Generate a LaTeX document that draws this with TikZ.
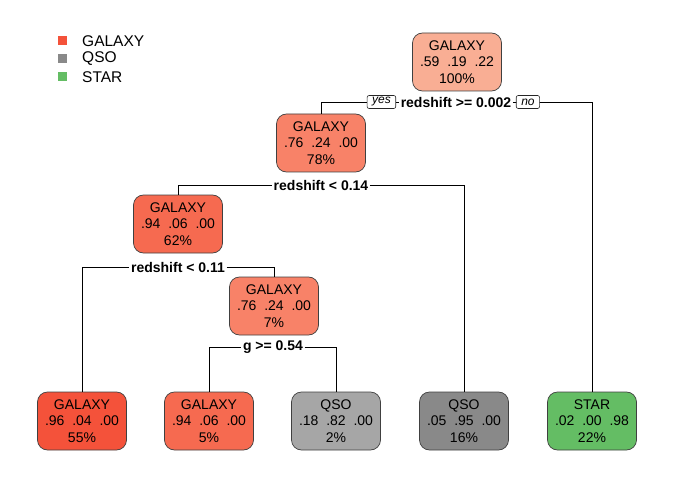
\documentclass[tikz,border=0pt]{standalone}
\usepackage{fontspec}
\setmainfont{Liberation Sans}
\definecolor{gal59}{RGB}{249,174,148}
\definecolor{gal76}{RGB}{248,130,104}
\definecolor{gal94}{RGB}{246,106,80}
\definecolor{gal96}{RGB}{244,82,58}
\definecolor{qso82}{RGB}{166,166,166}
\definecolor{qso95}{RGB}{137,137,137}
\definecolor{star98}{RGB}{100,189,100}

\begin{document}
\begin{tikzpicture}[x=1pt,y=-1pt,
    treenode/.style={draw=black!75,line width=0.7pt,rounded corners=10pt,
        minimum width=89pt,minimum height=58pt,inner sep=0pt,align=center,
        font=\fontsize{14}{16.5}\selectfont},
    splitlabel/.style={fill=white,inner sep=1.5pt,
        font=\fontsize{14}{16}\selectfont\bfseries},
    yesno/.style={draw=black!85,line width=0.6pt,fill=white,rounded corners=2pt,
        inner xsep=5pt,inner ysep=1pt,minimum height=13pt,
        font=\fontsize{12}{13}\selectfont\itshape},
    keybox/.style={minimum size=9pt,inner sep=0pt},
    keytext/.style={anchor=west,inner sep=0pt,font=\fontsize{15.5}{18}\selectfont},
    edge/.style={line width=0.7pt}]
    \useasboundingbox (0,0) rectangle (674,481);
    \node[keybox,fill=gal96] (kGal) at (62,41) {};
    \node[keybox,fill=qso95] (kQso) at (62,59) {};
    \node[keybox,fill=star98] (kStar) at (62,77) {};
    \node[keytext] at (82,41) {GALAXY};
    \node[keytext] at (82,59) {QSO};
    \node[keytext] at (82,77) {STAR};

    \node[treenode,fill=gal59] (root) at (457,62) {GALAXY\\.59\ \ .19\ \ .22\\100\%};
    \node[treenode,fill=gal76] (galA) at (321,143) {GALAXY\\.76\ \ .24\ \ .00\\78\%};
    \node[treenode,fill=gal94] (galB) at (178,224) {GALAXY\\.94\ \ .06\ \ .00\\62\%};
    \node[treenode,fill=gal76] (galC) at (274,306) {GALAXY\\.76\ \ .24\ \ .00\\7\%};
    \node[treenode,fill=gal96] (leafA) at (82,421) {GALAXY\\.96\ \ .04\ \ .00\\55\%};
    \node[treenode,fill=gal94] (leafB) at (209,421) {GALAXY\\.94\ \ .06\ \ .00\\5\%};
    \node[treenode,fill=qso82] (leafC) at (336,421) {QSO\\.18\ \ .82\ \ .00\\2\%};
    \node[treenode,fill=qso95] (leafD) at (464,421) {QSO\\.05\ \ .95\ \ .00\\16\%};
    \node[treenode,fill=star98] (leafE) at (592,421) {STAR\\.02\ \ .00\ \ .98\\22\%};

    \node[splitlabel] (zSplit1) at (456,102) {redshift >= 0.002};
    \node[splitlabel] (zSplit2) at (321,185) {redshift < 0.14};
    \node[splitlabel] (zSplit3) at (178,267) {redshift < 0.11};
    \node[splitlabel] (gSplit) at (273,347) {g >= 0.54};

    \draw[edge] (galA.north) |- (zSplit1) -| (leafE.north);
    \draw[edge] (galB.north) |- (zSplit2) -| (leafD.north);
    \draw[edge] (leafA.north) |- (zSplit3) -| (galC.north);
    \draw[edge] (leafB.north) |- (gSplit) -| (leafC.north);

    \node[yesno,anchor=east] (yes) at ([xshift=-3pt]zSplit1.west) {yes};
    \node[yesno,anchor=west] (no) at ([xshift=3pt]zSplit1.east) {no};
\end{tikzpicture}
\end{document}
